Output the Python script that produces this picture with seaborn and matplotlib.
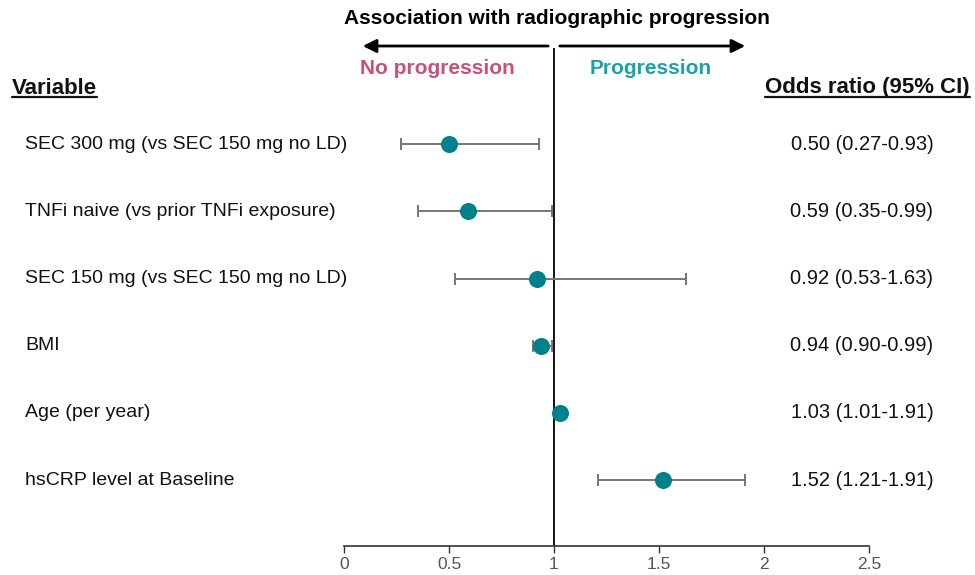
import numpy as np
import pandas as pd
import matplotlib
matplotlib.use("Agg")
import matplotlib.pyplot as plt
import seaborn as sns

# values
variables = ["SEC 300 mg (vs SEC 150 mg no LD)", "TNFi naive (vs prior TNFi exposure)",
             "SEC 150 mg (vs SEC 150 mg no LD)", "BMI", "Age (per year)",
             "hsCRP level at Baseline"]
odds = [0.50, 0.59, 0.92, 0.94, 1.03, 1.52]
ci_low = [0.27, 0.35, 0.53, 0.90, 1.01, 1.21]
ci_high = [0.93, 0.99, 1.63, 0.99, 1.05, 1.91]
or_labels = ["0.50 (0.27-0.93)", "0.59 (0.35-0.99)", "0.92 (0.53-1.63)",
             "0.94 (0.90-0.99)", "1.03 (1.01-1.91)", "1.52 (1.21-1.91)"]
xticks = [0, 0.5, 1, 1.5, 2, 2.5]

df = pd.DataFrame({"var": variables, "odds": odds, "lo": ci_low, "hi": ci_high,
                   "row": np.arange(len(variables))})

sns.set_theme(style="white")
plt.rcParams["font.family"] = ["Liberation Sans", "DejaVu Sans"]

teal = "#00808A"
fig = plt.figure(figsize=(9.75, 5.75), dpi=100)
ax = fig.add_axes([344 / 975, 29 / 575, 525 / 975, 498 / 575])

# CI bars
ax.errorbar(df["odds"], df["row"], xerr=[df["odds"] - df["lo"], df["hi"] - df["odds"]],
            fmt="none", ecolor="#767676", elinewidth=1.4, capsize=4, capthick=1.4, zorder=2)
sns.scatterplot(data=df, x="odds", y="row", ax=ax, color=teal, s=150, edgecolor=teal,
                linewidth=0, zorder=3)

ax.axvline(1, color="black", lw=1.3, zorder=1)
ax.set_xlim(0, 2.5)
ax.set_ylim(5.98, -1.43)
ax.set_xticks(xticks)
ax.set_xticklabels(["0", "0.5", "1", "1.5", "2", "2.5"], color="#555555", fontsize=12.5)
ax.set_yticks([])
ax.set_xlabel("")
ax.set_ylabel("")
for s in ["top", "right", "left"]:
    ax.spines[s].set_visible(False)
ax.spines["bottom"].set_color("#333333")
ax.spines["bottom"].set_linewidth(1.2)
ax.tick_params(axis="x", direction="out", length=5, width=1, color="#333333",
               bottom=True, pad=3)

# row labels and odds ratio text
for i, row in df.iterrows():
    ax.annotate(row["var"], xy=(25 / 975, row["row"]), xycoords=("figure fraction", "data"),
                ha="left", va="center", fontsize=14, color="#111111")
    ax.annotate(or_labels[i], xy=(862 / 975, row["row"]), xycoords=("figure fraction", "data"),
                ha="center", va="center", fontsize=14.5, color="#111111")

# headers
h1 = fig.text(12 / 975, 1 - 88 / 575, "Variable", ha="left", va="center",
              fontsize=16, fontweight="bold", color="#111111")
h2 = fig.text(970 / 975, 1 - 88 / 575, "Odds ratio (95% CI)", ha="right", va="center",
              fontsize=16, fontweight="bold", color="#111111")
fig.text(557 / 975, 1 - 19 / 575, "Association with radiographic progression", ha="center",
         va="center", fontsize=15, fontweight="bold", color="black")
fig.text(437 / 975, 1 - 68 / 575, "No progression", ha="center", va="center",
         fontsize=15, fontweight="bold", color="#C9507A")
fig.text(651 / 975, 1 - 68 / 575, "Progression", ha="center", va="center",
         fontsize=15, fontweight="bold", color="#1AA3A6")

# arrows
ay = 1 - 46 / 575
fig.add_artist(matplotlib.patches.FancyArrowPatch((551 / 975, ay), (360 / 975, ay),
               transform=fig.transFigure, arrowstyle="-|>,head_length=8,head_width=4",
               lw=2, color="black"))
fig.add_artist(matplotlib.patches.FancyArrowPatch((557 / 975, ay), (748 / 975, ay),
               transform=fig.transFigure, arrowstyle="-|>,head_length=8,head_width=4",
               lw=2, color="black"))

# underline headers
fig.canvas.draw()
r = fig.canvas.get_renderer()
for h in [h1, h2]:
    bb = h.get_window_extent(r).transformed(fig.transFigure.inverted())
    fig.add_artist(matplotlib.lines.Line2D([bb.x0, bb.x1], [bb.y0 + 0.002, bb.y0 + 0.002],
                                           transform=fig.transFigure, color="#111111", lw=1.6))

fig.savefig("out.png", dpi=100, facecolor="white")
